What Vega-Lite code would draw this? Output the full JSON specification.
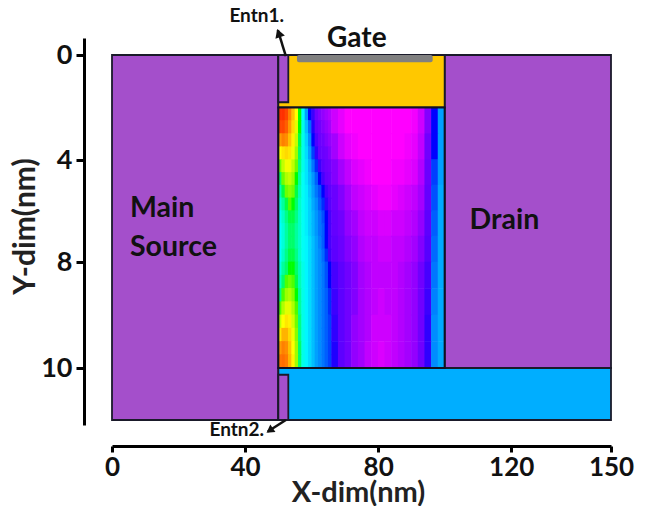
{"$schema":"https://vega.github.io/schema/vega-lite/v6.json","width":499,"height":387,"autosize":"none","padding":{"left":112,"top":38,"right":44,"bottom":81},"background":"white","config":{"view":{"stroke":null},"text":{"font":"Lato","fontWeight":"bold"}},
"datasets":{
"regions":[{"r":"Source","x":0,"x2":50,"y":0,"y2":11},{"r":"Drain","x":100,"x2":150,"y":0,"y2":10},{"r":"Gate oxide","x":50,"x2":100,"y":0,"y2":2},{"r":"Bottom oxide","x":50,"x2":150,"y":10,"y2":11},{"r":"Entn1","x":50,"x2":53,"y":0,"y2":1.8},{"r":"Entn2","x":50,"x2":53,"y":10.13,"y2":11}],
"left":[
{"x":50.5,"y":2.25,"v":8},{"x":51.5,"y":2.25,"v":8},{"x":52.5,"y":2.25,"v":7.8},{"x":53.5,"y":2.25,"v":7},{"x":54.5,"y":2.25,"v":6.5},{"x":55.5,"y":2.25,"v":6},{"x":56.5,"y":2.25,"v":5},{"x":57.5,"y":2.25,"v":4},{"x":58.5,"y":2.25,"v":3},{"x":59.5,"y":2.25,"v":2},{"x":60.5,"y":2.25,"v":1.7},{"x":61.5,"y":2.25,"v":1},{"x":62.5,"y":2.25,"v":0.9},{"x":63.5,"y":2.25,"v":0.8},{"x":64.5,"y":2.25,"v":0.7},{"x":65.5,"y":2.25,"v":0.6},
{"x":50.5,"y":2.75,"v":7.8},{"x":51.5,"y":2.75,"v":7.8},{"x":52.5,"y":2.75,"v":7.5},{"x":53.5,"y":2.75,"v":6.8},{"x":54.5,"y":2.75,"v":6.3},{"x":55.5,"y":2.75,"v":5.8},{"x":56.5,"y":2.75,"v":5},{"x":57.5,"y":2.75,"v":4.2},{"x":58.5,"y":2.75,"v":3.3},{"x":59.5,"y":2.75,"v":2.5},{"x":60.5,"y":2.75,"v":1.9},{"x":61.5,"y":2.75,"v":1.2},{"x":62.5,"y":2.75,"v":1},{"x":63.5,"y":2.75,"v":0.9},{"x":64.5,"y":2.75,"v":0.8},{"x":65.5,"y":2.75,"v":0.7},
{"x":50.5,"y":3.25,"v":6.8},{"x":51.5,"y":3.25,"v":7},{"x":52.5,"y":3.25,"v":6.9},{"x":53.5,"y":3.25,"v":6.5},{"x":54.5,"y":3.25,"v":6.1},{"x":55.5,"y":3.25,"v":5.6},{"x":56.5,"y":3.25,"v":4.9},{"x":57.5,"y":3.25,"v":4.2},{"x":58.5,"y":3.25,"v":3.5},{"x":59.5,"y":3.25,"v":2.8},{"x":60.5,"y":3.25,"v":2},{"x":61.5,"y":3.25,"v":1.5},{"x":62.5,"y":3.25,"v":1.1},{"x":63.5,"y":3.25,"v":1},{"x":64.5,"y":3.25,"v":0.9},{"x":65.5,"y":3.25,"v":0.8},
{"x":50.5,"y":3.75,"v":6},{"x":51.5,"y":3.75,"v":6.2},{"x":52.5,"y":3.75,"v":6.3},{"x":53.5,"y":3.75,"v":6.2},{"x":54.5,"y":3.75,"v":5.9},{"x":55.5,"y":3.75,"v":5.4},{"x":56.5,"y":3.75,"v":4.8},{"x":57.5,"y":3.75,"v":4.2},{"x":58.5,"y":3.75,"v":3.6},{"x":59.5,"y":3.75,"v":3},{"x":60.5,"y":3.75,"v":2.2},{"x":61.5,"y":3.75,"v":1.8},{"x":62.5,"y":3.75,"v":1.2},{"x":63.5,"y":3.75,"v":1.1},{"x":64.5,"y":3.75,"v":1},{"x":65.5,"y":3.75,"v":0.9},
{"x":50.5,"y":4.25,"v":5.2},{"x":51.5,"y":4.25,"v":5.6},{"x":52.5,"y":4.25,"v":5.9},{"x":53.5,"y":4.25,"v":5.9},{"x":54.5,"y":4.25,"v":5.6},{"x":55.5,"y":4.25,"v":5.2},{"x":56.5,"y":4.25,"v":4.7},{"x":57.5,"y":4.25,"v":4.2},{"x":58.5,"y":4.25,"v":3.7},{"x":59.5,"y":4.25,"v":3.2},{"x":60.5,"y":4.25,"v":2.6},{"x":61.5,"y":4.25,"v":2.1},{"x":62.5,"y":4.25,"v":1.7},{"x":63.5,"y":4.25,"v":1.3},{"x":64.5,"y":4.25,"v":1.1},{"x":65.5,"y":4.25,"v":1},
{"x":50.5,"y":4.75,"v":4.8},{"x":51.5,"y":4.75,"v":5.2},{"x":52.5,"y":4.75,"v":5.5},{"x":53.5,"y":4.75,"v":5.6},{"x":54.5,"y":4.75,"v":5.4},{"x":55.5,"y":4.75,"v":5},{"x":56.5,"y":4.75,"v":4.6},{"x":57.5,"y":4.75,"v":4.1},{"x":58.5,"y":4.75,"v":3.7},{"x":59.5,"y":4.75,"v":3.3},{"x":60.5,"y":4.75,"v":2.9},{"x":61.5,"y":4.75,"v":2.4},{"x":62.5,"y":4.75,"v":2},{"x":63.5,"y":4.75,"v":1.6},{"x":64.5,"y":4.75,"v":1.2},{"x":65.5,"y":4.75,"v":1.1},
{"x":50.5,"y":5.25,"v":4.5},{"x":51.5,"y":5.25,"v":4.9},{"x":52.5,"y":5.25,"v":5.2},{"x":53.5,"y":5.25,"v":5.3},{"x":54.5,"y":5.25,"v":5.2},{"x":55.5,"y":5.25,"v":4.9},{"x":56.5,"y":5.25,"v":4.5},{"x":57.5,"y":5.25,"v":4.1},{"x":58.5,"y":5.25,"v":3.8},{"x":59.5,"y":5.25,"v":3.4},{"x":60.5,"y":5.25,"v":3},{"x":61.5,"y":5.25,"v":2.6},{"x":62.5,"y":5.25,"v":2.3},{"x":63.5,"y":5.25,"v":2},{"x":64.5,"y":5.25,"v":1.6},{"x":65.5,"y":5.25,"v":1.3},
{"x":50.5,"y":5.75,"v":4.3},{"x":51.5,"y":5.75,"v":4.6},{"x":52.5,"y":5.75,"v":4.9},{"x":53.5,"y":5.75,"v":5.1},{"x":54.5,"y":5.75,"v":5},{"x":55.5,"y":5.75,"v":4.8},{"x":56.5,"y":5.75,"v":4.4},{"x":57.5,"y":5.75,"v":4.1},{"x":58.5,"y":5.75,"v":3.8},{"x":59.5,"y":5.75,"v":3.5},{"x":60.5,"y":5.75,"v":3.1},{"x":61.5,"y":5.75,"v":2.8},{"x":62.5,"y":5.75,"v":2.4},{"x":63.5,"y":5.75,"v":2.1},{"x":64.5,"y":5.75,"v":1.8},{"x":65.5,"y":5.75,"v":1.4},
{"x":50.5,"y":6.25,"v":4.1},{"x":51.5,"y":6.25,"v":4.4},{"x":52.5,"y":6.25,"v":4.7},{"x":53.5,"y":6.25,"v":4.9},{"x":54.5,"y":6.25,"v":4.9},{"x":55.5,"y":6.25,"v":4.7},{"x":56.5,"y":6.25,"v":4.4},{"x":57.5,"y":6.25,"v":4.1},{"x":58.5,"y":6.25,"v":3.8},{"x":59.5,"y":6.25,"v":3.5},{"x":60.5,"y":6.25,"v":3.2},{"x":61.5,"y":6.25,"v":2.9},{"x":62.5,"y":6.25,"v":2.6},{"x":63.5,"y":6.25,"v":2.3},{"x":64.5,"y":6.25,"v":2},{"x":65.5,"y":6.25,"v":1.6},
{"x":50.5,"y":6.75,"v":4},{"x":51.5,"y":6.75,"v":4.3},{"x":52.5,"y":6.75,"v":4.6},{"x":53.5,"y":6.75,"v":4.8},{"x":54.5,"y":6.75,"v":4.8},{"x":55.5,"y":6.75,"v":4.6},{"x":56.5,"y":6.75,"v":4.4},{"x":57.5,"y":6.75,"v":4.1},{"x":58.5,"y":6.75,"v":3.8},{"x":59.5,"y":6.75,"v":3.5},{"x":60.5,"y":6.75,"v":3.2},{"x":61.5,"y":6.75,"v":2.9},{"x":62.5,"y":6.75,"v":2.6},{"x":63.5,"y":6.75,"v":2.4},{"x":64.5,"y":6.75,"v":2},{"x":65.5,"y":6.75,"v":1.6},
{"x":50.5,"y":7.25,"v":4},{"x":51.5,"y":7.25,"v":4.3},{"x":52.5,"y":7.25,"v":4.6},{"x":53.5,"y":7.25,"v":4.8},{"x":54.5,"y":7.25,"v":4.8},{"x":55.5,"y":7.25,"v":4.6},{"x":56.5,"y":7.25,"v":4.4},{"x":57.5,"y":7.25,"v":4.1},{"x":58.5,"y":7.25,"v":3.9},{"x":59.5,"y":7.25,"v":3.6},{"x":60.5,"y":7.25,"v":3.3},{"x":61.5,"y":7.25,"v":3},{"x":62.5,"y":7.25,"v":2.7},{"x":63.5,"y":7.25,"v":2.4},{"x":64.5,"y":7.25,"v":2},{"x":65.5,"y":7.25,"v":1.6},
{"x":50.5,"y":7.75,"v":4},{"x":51.5,"y":7.75,"v":4.4},{"x":52.5,"y":7.75,"v":4.7},{"x":53.5,"y":7.75,"v":4.9},{"x":54.5,"y":7.75,"v":4.9},{"x":55.5,"y":7.75,"v":4.7},{"x":56.5,"y":7.75,"v":4.4},{"x":57.5,"y":7.75,"v":4.1},{"x":58.5,"y":7.75,"v":3.9},{"x":59.5,"y":7.75,"v":3.6},{"x":60.5,"y":7.75,"v":3.3},{"x":61.5,"y":7.75,"v":3},{"x":62.5,"y":7.75,"v":2.8},{"x":63.5,"y":7.75,"v":2.5},{"x":64.5,"y":7.75,"v":2.1},{"x":65.5,"y":7.75,"v":1.7},
{"x":50.5,"y":8.125,"v":4.2},{"x":51.5,"y":8.125,"v":4.6},{"x":52.5,"y":8.125,"v":4.8},{"x":53.5,"y":8.125,"v":5},{"x":54.5,"y":8.125,"v":5},{"x":55.5,"y":8.125,"v":4.8},{"x":56.5,"y":8.125,"v":4.5},{"x":57.5,"y":8.125,"v":4.2},{"x":58.5,"y":8.125,"v":3.9},{"x":59.5,"y":8.125,"v":3.6},{"x":60.5,"y":8.125,"v":3.3},{"x":61.5,"y":8.125,"v":3},{"x":62.5,"y":8.125,"v":2.8},{"x":63.5,"y":8.125,"v":2.6},{"x":64.5,"y":8.125,"v":2.3},{"x":65.5,"y":8.125,"v":2},
{"x":50.5,"y":8.375,"v":4.4},{"x":51.5,"y":8.375,"v":4.8},{"x":52.5,"y":8.375,"v":5.1},{"x":53.5,"y":8.375,"v":5.2},{"x":54.5,"y":8.375,"v":5.1},{"x":55.5,"y":8.375,"v":4.9},{"x":56.5,"y":8.375,"v":4.5},{"x":57.5,"y":8.375,"v":4.2},{"x":58.5,"y":8.375,"v":3.9},{"x":59.5,"y":8.375,"v":3.6},{"x":60.5,"y":8.375,"v":3.3},{"x":61.5,"y":8.375,"v":3},{"x":62.5,"y":8.375,"v":2.8},{"x":63.5,"y":8.375,"v":2.6},{"x":64.5,"y":8.375,"v":2.3},{"x":65.5,"y":8.375,"v":2},
{"x":50.5,"y":8.625,"v":4.7},{"x":51.5,"y":8.625,"v":5.1},{"x":52.5,"y":8.625,"v":5.4},{"x":53.5,"y":8.625,"v":5.5},{"x":54.5,"y":8.625,"v":5.3},{"x":55.5,"y":8.625,"v":5},{"x":56.5,"y":8.625,"v":4.6},{"x":57.5,"y":8.625,"v":4.2},{"x":58.5,"y":8.625,"v":3.9},{"x":59.5,"y":8.625,"v":3.6},{"x":60.5,"y":8.625,"v":3.3},{"x":61.5,"y":8.625,"v":3},{"x":62.5,"y":8.625,"v":2.8},{"x":63.5,"y":8.625,"v":2.6},{"x":64.5,"y":8.625,"v":2.4},{"x":65.5,"y":8.625,"v":2.1},
{"x":50.5,"y":8.875,"v":5.1},{"x":51.5,"y":8.875,"v":5.5},{"x":52.5,"y":8.875,"v":5.8},{"x":53.5,"y":8.875,"v":5.8},{"x":54.5,"y":8.875,"v":5.5},{"x":55.5,"y":8.875,"v":5.1},{"x":56.5,"y":8.875,"v":4.6},{"x":57.5,"y":8.875,"v":4.2},{"x":58.5,"y":8.875,"v":3.9},{"x":59.5,"y":8.875,"v":3.6},{"x":60.5,"y":8.875,"v":3.3},{"x":61.5,"y":8.875,"v":3},{"x":62.5,"y":8.875,"v":2.8},{"x":63.5,"y":8.875,"v":2.6},{"x":64.5,"y":8.875,"v":2.4},{"x":65.5,"y":8.875,"v":2.1},
{"x":50.5,"y":9.125,"v":5.6},{"x":51.5,"y":9.125,"v":6},{"x":52.5,"y":9.125,"v":6.2},{"x":53.5,"y":9.125,"v":6.1},{"x":54.5,"y":9.125,"v":5.7},{"x":55.5,"y":9.125,"v":5.2},{"x":56.5,"y":9.125,"v":4.7},{"x":57.5,"y":9.125,"v":4.2},{"x":58.5,"y":9.125,"v":3.9},{"x":59.5,"y":9.125,"v":3.6},{"x":60.5,"y":9.125,"v":3.3},{"x":61.5,"y":9.125,"v":3},{"x":62.5,"y":9.125,"v":2.8},{"x":63.5,"y":9.125,"v":2.6},{"x":64.5,"y":9.125,"v":2.4},{"x":65.5,"y":9.125,"v":2.2},
{"x":50.5,"y":9.375,"v":6.2},{"x":51.5,"y":9.375,"v":6.6},{"x":52.5,"y":9.375,"v":6.6},{"x":53.5,"y":9.375,"v":6.3},{"x":54.5,"y":9.375,"v":5.9},{"x":55.5,"y":9.375,"v":5.3},{"x":56.5,"y":9.375,"v":4.7},{"x":57.5,"y":9.375,"v":4.2},{"x":58.5,"y":9.375,"v":3.9},{"x":59.5,"y":9.375,"v":3.6},{"x":60.5,"y":9.375,"v":3.3},{"x":61.5,"y":9.375,"v":3},{"x":62.5,"y":9.375,"v":2.8},{"x":63.5,"y":9.375,"v":2.6},{"x":64.5,"y":9.375,"v":2.4},{"x":65.5,"y":9.375,"v":2.2},
{"x":50.5,"y":9.625,"v":6.8},{"x":51.5,"y":9.625,"v":7},{"x":52.5,"y":9.625,"v":6.9},{"x":53.5,"y":9.625,"v":6.5},{"x":54.5,"y":9.625,"v":6},{"x":55.5,"y":9.625,"v":5.4},{"x":56.5,"y":9.625,"v":4.8},{"x":57.5,"y":9.625,"v":4.2},{"x":58.5,"y":9.625,"v":3.9},{"x":59.5,"y":9.625,"v":3.6},{"x":60.5,"y":9.625,"v":3.3},{"x":61.5,"y":9.625,"v":3},{"x":62.5,"y":9.625,"v":2.8},{"x":63.5,"y":9.625,"v":2.6},{"x":64.5,"y":9.625,"v":2.4},{"x":65.5,"y":9.625,"v":2.2},
{"x":50.5,"y":9.875,"v":7.2},{"x":51.5,"y":9.875,"v":7.3},{"x":52.5,"y":9.875,"v":7.1},{"x":53.5,"y":9.875,"v":6.6},{"x":54.5,"y":9.875,"v":6.1},{"x":55.5,"y":9.875,"v":5.4},{"x":56.5,"y":9.875,"v":4.8},{"x":57.5,"y":9.875,"v":4.2},{"x":58.5,"y":9.875,"v":3.9},{"x":59.5,"y":9.875,"v":3.6},{"x":60.5,"y":9.875,"v":3.3},{"x":61.5,"y":9.875,"v":3},{"x":62.5,"y":9.875,"v":2.8},{"x":63.5,"y":9.875,"v":2.6},{"x":64.5,"y":9.875,"v":2.4},{"x":65.5,"y":9.875,"v":2.2}],
"right":[
{"x":67,"y":2.5,"v":0.4},{"x":69,"y":2.5,"v":0.2},{"x":71,"y":2.5,"v":0},{"x":73,"y":2.5,"v":0},{"x":75,"y":2.5,"v":0},{"x":77,"y":2.5,"v":0},{"x":79,"y":2.5,"v":0},{"x":81,"y":2.5,"v":0},{"x":83,"y":2.5,"v":0},{"x":85,"y":2.5,"v":0},{"x":87,"y":2.5,"v":0},{"x":89,"y":2.5,"v":0},{"x":91,"y":2.5,"v":0.1},{"x":93,"y":2.5,"v":0.4},{"x":95,"y":2.5,"v":0.9},{"x":97,"y":2.5,"v":2},{"x":99,"y":2.5,"v":3},
{"x":67,"y":3.5,"v":0.7},{"x":69,"y":3.5,"v":0.4},{"x":71,"y":3.5,"v":0.2},{"x":73,"y":3.5,"v":0.1},{"x":75,"y":3.5,"v":0},{"x":77,"y":3.5,"v":0},{"x":79,"y":3.5,"v":0},{"x":81,"y":3.5,"v":0},{"x":83,"y":3.5,"v":0},{"x":85,"y":3.5,"v":0},{"x":87,"y":3.5,"v":0},{"x":89,"y":3.5,"v":0.1},{"x":91,"y":3.5,"v":0.2},{"x":93,"y":3.5,"v":0.5},{"x":95,"y":3.5,"v":1},{"x":97,"y":3.5,"v":2},{"x":99,"y":3.5,"v":3},
{"x":67,"y":4.5,"v":0.9},{"x":69,"y":4.5,"v":0.7},{"x":71,"y":4.5,"v":0.5},{"x":73,"y":4.5,"v":0.3},{"x":75,"y":4.5,"v":0.2},{"x":77,"y":4.5,"v":0.1},{"x":79,"y":4.5,"v":0},{"x":81,"y":4.5,"v":0},{"x":83,"y":4.5,"v":0},{"x":85,"y":4.5,"v":0.1},{"x":87,"y":4.5,"v":0.1},{"x":89,"y":4.5,"v":0.2},{"x":91,"y":4.5,"v":0.3},{"x":93,"y":4.5,"v":0.6},{"x":95,"y":4.5,"v":1.1},{"x":97,"y":4.5,"v":2.2},{"x":99,"y":4.5,"v":3},
{"x":67,"y":5.5,"v":1.1},{"x":69,"y":5.5,"v":0.9},{"x":71,"y":5.5,"v":0.7},{"x":73,"y":5.5,"v":0.5},{"x":75,"y":5.5,"v":0.4},{"x":77,"y":5.5,"v":0.3},{"x":79,"y":5.5,"v":0.2},{"x":81,"y":5.5,"v":0.1},{"x":83,"y":5.5,"v":0.1},{"x":85,"y":5.5,"v":0.2},{"x":87,"y":5.5,"v":0.3},{"x":89,"y":5.5,"v":0.4},{"x":91,"y":5.5,"v":0.5},{"x":93,"y":5.5,"v":0.7},{"x":95,"y":5.5,"v":1.2},{"x":97,"y":5.5,"v":2.3},{"x":99,"y":5.5,"v":3.1},
{"x":67,"y":6.5,"v":1.2},{"x":69,"y":6.5,"v":1},{"x":71,"y":6.5,"v":0.8},{"x":73,"y":6.5,"v":0.7},{"x":75,"y":6.5,"v":0.5},{"x":77,"y":6.5,"v":0.4},{"x":79,"y":6.5,"v":0.4},{"x":81,"y":6.5,"v":0.3},{"x":83,"y":6.5,"v":0.3},{"x":85,"y":6.5,"v":0.4},{"x":87,"y":6.5,"v":0.4},{"x":89,"y":6.5,"v":0.5},{"x":91,"y":6.5,"v":0.6},{"x":93,"y":6.5,"v":0.8},{"x":95,"y":6.5,"v":1.3},{"x":97,"y":6.5,"v":2.4},{"x":99,"y":6.5,"v":3.1},
{"x":67,"y":7.5,"v":1.3},{"x":69,"y":7.5,"v":1.1},{"x":71,"y":7.5,"v":0.9},{"x":73,"y":7.5,"v":0.8},{"x":75,"y":7.5,"v":0.6},{"x":77,"y":7.5,"v":0.5},{"x":79,"y":7.5,"v":0.5},{"x":81,"y":7.5,"v":0.4},{"x":83,"y":7.5,"v":0.4},{"x":85,"y":7.5,"v":0.5},{"x":87,"y":7.5,"v":0.5},{"x":89,"y":7.5,"v":0.6},{"x":91,"y":7.5,"v":0.7},{"x":93,"y":7.5,"v":0.9},{"x":95,"y":7.5,"v":1.4},{"x":97,"y":7.5,"v":2.5},{"x":99,"y":7.5,"v":3.1},
{"x":67,"y":8.25,"v":1.6},{"x":69,"y":8.25,"v":1.3},{"x":71,"y":8.25,"v":1},{"x":73,"y":8.25,"v":0.9},{"x":75,"y":8.25,"v":0.7},{"x":77,"y":8.25,"v":0.6},{"x":79,"y":8.25,"v":0.5},{"x":81,"y":8.25,"v":0.5},{"x":83,"y":8.25,"v":0.5},{"x":85,"y":8.25,"v":0.5},{"x":87,"y":8.25,"v":0.6},{"x":89,"y":8.25,"v":0.7},{"x":91,"y":8.25,"v":0.8},{"x":93,"y":8.25,"v":1},{"x":95,"y":8.25,"v":1.6},{"x":97,"y":8.25,"v":2.6},{"x":99,"y":8.25,"v":3.1},
{"x":67,"y":8.75,"v":1.7},{"x":69,"y":8.75,"v":1.3},{"x":71,"y":8.75,"v":1},{"x":73,"y":8.75,"v":0.9},{"x":75,"y":8.75,"v":0.7},{"x":77,"y":8.75,"v":0.6},{"x":79,"y":8.75,"v":0.5},{"x":81,"y":8.75,"v":0.4},{"x":83,"y":8.75,"v":0.5},{"x":85,"y":8.75,"v":0.5},{"x":87,"y":8.75,"v":0.6},{"x":89,"y":8.75,"v":0.7},{"x":91,"y":8.75,"v":0.8},{"x":93,"y":8.75,"v":1},{"x":95,"y":8.75,"v":1.7},{"x":97,"y":8.75,"v":2.7},{"x":99,"y":8.75,"v":3.1},
{"x":67,"y":9.25,"v":1.8},{"x":69,"y":9.25,"v":1.3},{"x":71,"y":9.25,"v":1},{"x":73,"y":9.25,"v":0.8},{"x":75,"y":9.25,"v":0.7},{"x":77,"y":9.25,"v":0.6},{"x":79,"y":9.25,"v":0.4},{"x":81,"y":9.25,"v":0.4},{"x":83,"y":9.25,"v":0.4},{"x":85,"y":9.25,"v":0.5},{"x":87,"y":9.25,"v":0.6},{"x":89,"y":9.25,"v":0.7},{"x":91,"y":9.25,"v":0.8},{"x":93,"y":9.25,"v":1},{"x":95,"y":9.25,"v":1.8},{"x":97,"y":9.25,"v":2.8},{"x":99,"y":9.25,"v":3.1},
{"x":67,"y":9.75,"v":1.9},{"x":69,"y":9.75,"v":1.3},{"x":71,"y":9.75,"v":1},{"x":73,"y":9.75,"v":0.8},{"x":75,"y":9.75,"v":0.7},{"x":77,"y":9.75,"v":0.5},{"x":79,"y":9.75,"v":0.4},{"x":81,"y":9.75,"v":0.3},{"x":83,"y":9.75,"v":0.4},{"x":85,"y":9.75,"v":0.5},{"x":87,"y":9.75,"v":0.6},{"x":89,"y":9.75,"v":0.7},{"x":91,"y":9.75,"v":0.8},{"x":93,"y":9.75,"v":1},{"x":95,"y":9.75,"v":1.8},{"x":97,"y":9.75,"v":2.8},{"x":99,"y":9.75,"v":3.1}]
},
"encoding":{
"x":{"field":"x","type":"quantitative","scale":{"domain":[0,150],"nice":false,"zero":false},"axis":{"values":[0,40,80,120,150],"grid":false,"offset":21,"domainColor":"#000","domainWidth":3,"tickColor":"#000","tickWidth":3,"tickSize":6,"labelFont":"Lato","labelFontWeight":"bold","labelFontSize":26,"labelColor":"#111","labelPadding":2,"labelFlush":false,"labelOverlap":false,"title":"X-dim(nm)","titleFont":"Lato","titleFontWeight":"bold","titleFontSize":29,"titleColor":"#222","titleX":246,"titleY":55,"titleBaseline":"alphabetic"}},
"y":{"field":"y","type":"quantitative","scale":{"domain":[-0.65,0,4,8,10,11,11.1],"range":[0,17,122,224,330,382,387],"nice":false,"zero":false},"axis":{"values":[0,4,8,10],"grid":false,"offset":28,"domainColor":"#000","domainWidth":3,"tickColor":"#000","tickWidth":3,"tickSize":8,"labelFont":"Lato","labelFontWeight":"bold","labelFontSize":27,"labelColor":"#111","labelPadding":4,"labelOverlap":false,"title":"Y-dim(nm)","titleFont":"Lato","titleFontWeight":"bold","titleFontSize":30,"titleColor":"#222","titlePadding":0,"titleY":188}}
},
"layer":[
{"data":{"name":"regions"},"mark":{"type":"rect","stroke":"#1a1a2a","strokeWidth":1.8},"encoding":{"x2":{"field":"x2"},"y2":{"field":"y2"},"fill":{"field":"r","type":"nominal","legend":null,"scale":{"domain":["Source","Drain","Gate oxide","Bottom oxide","Entn1","Entn2"],"range":["#A44FCB","#A44FCB","#FFC800","#00AEFF","#A44FCB","#A44FCB"]}}}},
{"data":{"name":"left"},"mark":{"type":"rect","width":3.9,"height":14},"encoding":{"color":{"field":"v","type":"quantitative","legend":null,"scale":{"domain":[0,1,2,3,4,5,6,7,8],"range":["#ff00ff","#7000ff","#0000ff","#00a0ff","#00ffff","#00ff00","#ffff00","#ff8000","#ff3000"]}}}},
{"data":{"name":"right"},"mark":{"type":"rect","width":7.2,"height":27},"encoding":{"color":{"field":"v","type":"quantitative","legend":null,"scale":{"domain":[0,1,2,3,4,5,6,7,8],"range":["#ff00ff","#7000ff","#0000ff","#00a0ff","#00ffff","#00ff00","#ffff00","#ff8000","#ff3000"]}}}},
{"data":{"values":[{"x":50,"x2":100,"y":2,"y2":10}]},"mark":{"type":"rect","filled":false,"stroke":"#111122","strokeWidth":2},"encoding":{"x2":{"field":"x2"},"y2":{"field":"y2"}}},
{"data":{"values":[{"x":55.6,"x2":96.4,"y":0,"y2":0.28}]},"mark":{"type":"rect","color":"#808080","cornerRadius":2},"encoding":{"x2":{"field":"x2"},"y2":{"field":"y2"}}},
{"data":{"values":[{"a":"e1","x":52.25,"y":0.04},{"a":"e1","x":49.85,"y":-0.95},{"a":"e2","x":52.25,"y":11},{"a":"e2","x":46.85,"y":11.23}]},"mark":{"type":"line","color":"#111","strokeWidth":2.5},"encoding":{"detail":{"field":"a"}}},
{"data":{"values":[{"x":50.1,"y":-0.84}]},"mark":{"type":"point","shape":"triangle-up","filled":true,"color":"#111","size":100,"angle":340,"opacity":1}},
{"data":{"values":[{"x":47.4,"y":11.21}]},"mark":{"type":"point","shape":"triangle-up","filled":true,"color":"#111","size":80,"angle":235,"opacity":1}},
{"data":{"values":[{"x":5.4,"y":5.9,"t":"Main"},{"x":5.4,"y":7.4,"t":"Source"},{"x":107.5,"y":6.35,"t":"Drain"}]},"mark":{"type":"text","align":"left","baseline":"middle","fontSize":28.5,"color":"#111"},"encoding":{"text":{"field":"t"}}},
{"data":{"values":[{"x":73.6,"y":-0.61,"t":"Gate"}]},"mark":{"type":"text","align":"center","baseline":"middle","fontSize":28,"color":"#111"},"encoding":{"text":{"field":"t"}}},
{"data":{"values":[{"x":43.5,"y":-1.49,"t":"Entn1."},{"x":37.5,"y":11.19,"t":"Entn2."}]},"mark":{"type":"text","align":"center","baseline":"middle","fontSize":19,"color":"#111"},"encoding":{"text":{"field":"t"}}}
]}
